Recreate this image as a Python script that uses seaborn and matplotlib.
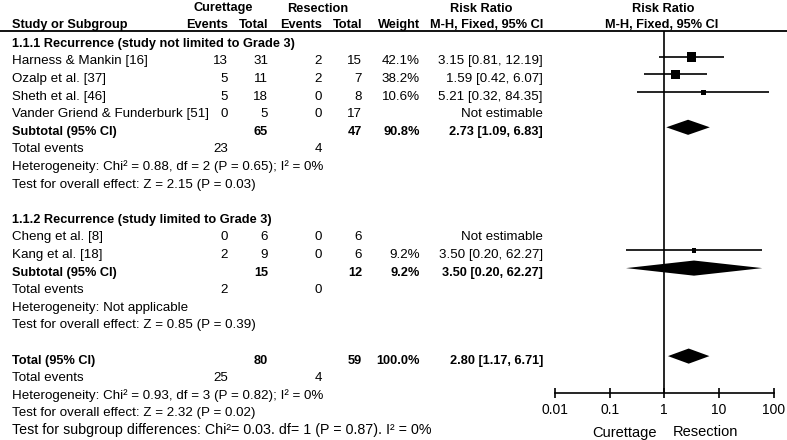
import numpy as np
import pandas as pd
import matplotlib
matplotlib.use("Agg")
import matplotlib.pyplot as plt
import seaborn as sns

# --- Data ---
studies = ["Harness & Mankin [16]", "Ozalp et al. [37]", "Sheth et al. [46]",
           "Vander Griend & Funderburk [51]", "Cheng et al. [8]", "Kang et al. [18]"]
study_rows = [1, 2, 3, 4, 11, 12]
cur_events = [13, 5, 5, 0, 0, 2]
cur_total = [31, 11, 18, 5, 6, 9]
res_events = [2, 2, 0, 0, 0, 0]
res_total = [15, 7, 8, 17, 6, 6]
weight = [42.1, 38.2, 10.6, np.nan, np.nan, 9.2]
rr = [3.15, 1.59, 5.21, np.nan, np.nan, 3.50]
rr_lo = [0.81, 0.42, 0.32, np.nan, np.nan, 0.20]
rr_hi = [12.19, 6.07, 84.35, np.nan, np.nan, 62.27]

group_titles = ["1.1.1 Recurrence (study not limited to Grade 3)",
                "1.1.2 Recurrence (study limited to Grade 3)"]
group_rows = [0, 10]
sub_cur_total = [65, 15]
sub_res_total = [47, 12]
sub_cur_events = [23, 2]
sub_res_events = [4, 0]
sub_weight = [90.8, 9.2]
sub_rr = [2.73, 3.50]
sub_lo = [1.09, 0.20]
sub_hi = [6.83, 62.27]
sub_het = ["Heterogeneity: Chi² = 0.88, df = 2 (P = 0.65); I² = 0%",
           "Heterogeneity: Not applicable"]
sub_test = ["Test for overall effect: Z = 2.15 (P = 0.03)",
            "Test for overall effect: Z = 0.85 (P = 0.39)"]

tot_cur_total, tot_res_total = 80, 59
tot_cur_events, tot_res_events = 25, 4
tot_weight = 100.0
tot_rr, tot_lo, tot_hi = 2.80, 1.17, 6.71
tot_het = "Heterogeneity: Chi² = 0.93, df = 3 (P = 0.82); I² = 0%"
tot_test = "Test for overall effect: Z = 2.32 (P = 0.02)"
subgroup_test = "Test for subgroup differences: Chi²= 0.03. df= 1 (P = 0.87). I² = 0%"

axis_ticks = [0.01, 0.1, 1, 10, 100]
axis_ticklabels = ["0.01", "0.1", "1", "10", "100"]

# --- Layout ---
W, H = 787, 440
ROW0, DY = 42.3, 17.6
FS = 9.6
FSB = 9.2
X_NAME = 12
X_CE, X_CT, X_RE, X_RT, X_W, X_CI = 228, 268, 322, 362, 420, 543


def ypix(r):
    return ROW0 + DY * r


sns.set_theme(style="white")
plt.rcParams["font.family"] = ["Liberation Sans", "DejaVu Sans"]

fig = plt.figure(figsize=(W / 100, H / 100), dpi=100)
ax_t = fig.add_axes([0, 0, 1, 1])
ax_t.set_xlim(0, W)
ax_t.set_ylim(H, 0)
ax_t.axis("off")


def txt(x, r, s, ha="left", bold=False, size=None, base=None):
    y = ypix(r) + 4.5 if base is None else base
    if size is None:
        size = FSB if bold else FS
    ax_t.text(x, y, s, ha=ha, va="baseline", fontsize=size,
              fontweight="bold" if bold else "normal", color="black")


# headers
hb = 11.5
txt(223, 0, "Curettage", ha="center", bold=True, base=hb)
txt(318, 0, "Resection", ha="center", bold=True, base=hb)
txt(481, 0, "Risk Ratio", ha="center", bold=True, base=hb)
txt(663, 0, "Risk Ratio", ha="center", bold=True, base=hb)
hb2 = 28
txt(X_NAME, 0, "Study or Subgroup", bold=True, base=hb2)
txt(X_CE, 0, "Events", ha="right", bold=True, base=hb2)
txt(X_CT, 0, "Total", ha="right", bold=True, base=hb2)
txt(X_RE, 0, "Events", ha="right", bold=True, base=hb2)
txt(X_RT, 0, "Total", ha="right", bold=True, base=hb2)
txt(X_W, 0, "Weight", ha="right", bold=True, base=hb2)
txt(X_CI, 0, "M-H, Fixed, 95% CI", ha="right", bold=True, base=hb2)
txt(718, 0, "M-H, Fixed, 95% CI", ha="right", bold=True, base=hb2)
ax_t.axhline(31, color="black", lw=1.3)

# study rows
for i, name in enumerate(studies):
    r = study_rows[i]
    txt(X_NAME, r, name)
    txt(X_CE, r, str(cur_events[i]), ha="right")
    txt(X_CT, r, str(cur_total[i]), ha="right")
    txt(X_RE, r, str(res_events[i]), ha="right")
    txt(X_RT, r, str(res_total[i]), ha="right")
    if np.isnan(rr[i]):
        txt(X_CI, r, "Not estimable", ha="right")
    else:
        txt(X_W, r, f"{weight[i]:.1f}%", ha="right")
        txt(X_CI, r, f"{rr[i]:.2f} [{rr_lo[i]:.2f}, {rr_hi[i]:.2f}]", ha="right")

sub_rows = []
for g in range(2):
    r0 = group_rows[g]
    n_st = sum(1 for sr in study_rows if r0 < sr < r0 + 9)
    rs = r0 + n_st + 1
    sub_rows.append(rs)
    txt(X_NAME, r0, group_titles[g], bold=True)
    txt(X_NAME, rs, "Subtotal (95% CI)", bold=True)
    txt(X_CT, rs, str(sub_cur_total[g]), ha="right", bold=True)
    txt(X_RT, rs, str(sub_res_total[g]), ha="right", bold=True)
    txt(X_W, rs, f"{sub_weight[g]:.1f}%", ha="right", bold=True)
    txt(X_CI, rs, f"{sub_rr[g]:.2f} [{sub_lo[g]:.2f}, {sub_hi[g]:.2f}]", ha="right", bold=True)
    txt(X_NAME, rs + 1, "Total events")
    txt(X_CE, rs + 1, str(sub_cur_events[g]), ha="right")
    txt(X_RE, rs + 1, str(sub_res_events[g]), ha="right")
    txt(X_NAME, rs + 2, sub_het[g])
    txt(X_NAME, rs + 3, sub_test[g])

rt = 18
txt(X_NAME, rt, "Total (95% CI)", bold=True)
txt(X_CT, rt, str(tot_cur_total), ha="right", bold=True)
txt(X_RT, rt, str(tot_res_total), ha="right", bold=True)
txt(X_W, rt, f"{tot_weight:.1f}%", ha="right", bold=True)
txt(X_CI, rt, f"{tot_rr:.2f} [{tot_lo:.2f}, {tot_hi:.2f}]", ha="right", bold=True)
txt(X_NAME, rt + 1, "Total events")
txt(X_CE, rt + 1, str(tot_cur_events), ha="right")
txt(X_RE, rt + 1, str(tot_res_events), ha="right")
txt(X_NAME, rt + 2, tot_het)
txt(X_NAME, rt + 3, tot_test)
txt(X_NAME, rt + 4, subgroup_test, size=10.3)

# --- Forest plot axes ---
AX_L, AX_R, AX_TOP, AX_BOT = 555, 773.5, 31, 392.7
MOFF = 3.0  # markers sit slightly above text centre
ax_f = fig.add_axes([AX_L / W, 1 - AX_BOT / H, (AX_R - AX_L) / W, (AX_BOT - AX_TOP) / H])
ax_f.set_xscale("log")
ax_f.set_xlim(0.01, 100)
ax_f.set_ylim((AX_BOT - ROW0 + MOFF) / DY, (AX_TOP - ROW0 + MOFF) / DY)
ax_f.patch.set_alpha(0)
for s in ["left", "right", "top"]:
    ax_f.spines[s].set_visible(False)
ax_f.spines["bottom"].set_color("black")
ax_f.spines["bottom"].set_linewidth(1.2)
ax_f.set_yticks([])
ax_f.set_xticks(axis_ticks)
ax_f.set_xticklabels(axis_ticklabels, fontsize=10)
ax_f.minorticks_off()
ax_f.tick_params(axis="x", direction="inout", length=6.5, width=1.2, pad=4.5,
                 colors="black", bottom=True)
ax_f.axvline(1, color="black", lw=1.2)

df = pd.DataFrame({"row": study_rows, "rr": rr, "lo": rr_lo, "hi": rr_hi, "w": weight}).dropna()
ax_f.hlines(df["row"], df["lo"], df["hi"], color="black", lw=1.2)
wmin, wmax = df["w"].min(), df["w"].max()
sns.scatterplot(data=df, x="rr", y="row", size="w", sizes=(wmin * 1.2, wmax * 1.2),
                size_norm=(wmin, wmax), marker="s", color="black",
                linewidth=0, legend=False, ax=ax_f, clip_on=False)
ax_f.set_xlabel("")
ax_f.set_ylabel("")

h = 0.43
dia_rows = sub_rows + [rt]
dia_est = sub_rr + [tot_rr]
dia_lo = sub_lo + [tot_lo]
dia_hi = sub_hi + [tot_hi]
for r, e, lo, hi in zip(dia_rows, dia_est, dia_lo, dia_hi):
    ax_f.fill([lo, e, hi, e], [r, r - h, r, r + h], color="black", lw=0)

ax_t.text(657, 436.5, "Curettage", ha="right", va="baseline", fontsize=10.5, color="black")
ax_t.text(673, 436.5, "Resection", ha="left", va="baseline", fontsize=10.5, color="black")

fig.savefig("out.png", dpi=100)
